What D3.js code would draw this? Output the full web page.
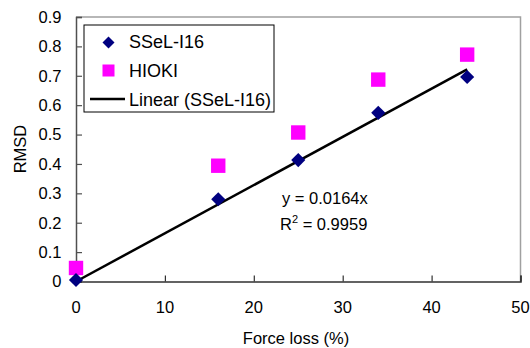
<!DOCTYPE html>
<html><head><meta charset="utf-8">
<script src="https://cdn.jsdelivr.net/npm/d3@7"></script>
<style>body{margin:0;background:#fff}svg{display:block}text{font-family:Arial,"Liberation Sans",sans-serif;fill:#000}</style>
</head><body><svg id="c" width="530" height="348"></svg>
<script>
const forceLoss = [0, 16, 25, 34, 44];
const sselValues = [0.005, 0.28, 0.413, 0.574, 0.696];
const hiokiValues = [0.046, 0.394, 0.507, 0.687, 0.772];
const slope = 0.0164;
const xTicks = [0, 10, 20, 30, 40, 50];
const yTicks = [0, 0.1, 0.2, 0.3, 0.4, 0.5, 0.6, 0.7, 0.8, 0.9];
const legendLabels = ["SSeL-I16", "HIOKI", "Linear (SSeL-I16)"];

const svg = d3.select("#c");
const L = 76, R = 520.5, T = 17, B = 281.5;
const x = d3.scaleLinear().domain([0, 50]).range([L, R]);
const y = d3.scaleLinear().domain([0, 0.9]).range([B, T]);

svg.append("path").attr("d", `M${L},${T}H${R}V${B}`).attr("fill","none").attr("stroke","#a0a0a0").attr("stroke-width",1.5);

const yAxis = d3.axisRight(y).tickValues(yTicks).tickSize(6).tickFormat("");
const gy = svg.append("g").attr("transform",`translate(${L},0)`).call(yAxis);
gy.select(".domain").attr("stroke","#505050").attr("stroke-width",1.5);
gy.selectAll(".tick line").attr("stroke","#505050").attr("stroke-width",1.2);
yTicks.forEach(v => {
  svg.append("text").attr("x", 61.5).attr("y", y(v)).attr("dy","0.36em").attr("text-anchor","end")
    .attr("font-size",16.5).text(d3.format("")(v));
});
const xAxis = d3.axisTop(x).tickValues(xTicks).tickSize(6).tickFormat("");
const gx = svg.append("g").attr("transform",`translate(0,${B})`).call(xAxis);
gx.select(".domain").attr("stroke","#303030").attr("stroke-width",1.5);
gx.selectAll(".tick line").attr("stroke","#303030").attr("stroke-width",1.2);
xTicks.forEach(v => {
  svg.append("text").attr("x", x(v)).attr("y", B+26).attr("dy","0.36em").attr("text-anchor","middle")
    .attr("font-size",16.5).text(v);
});

svg.append("text").attr("x", 296).attr("y", 344).attr("text-anchor","middle").attr("font-size",16.5).text("Force loss (%)");
svg.append("text").attr("transform","translate(26,149) rotate(-90)").attr("text-anchor","middle").attr("font-size",16.5).text("RMSD");

const lineX = [0, d3.max(forceLoss)];
svg.append("path").datum(lineX)
  .attr("d", d3.line().x(d=>x(d)).y(d=>y(slope*d)))
  .attr("stroke","#000").attr("stroke-width",2.5).attr("fill","none");

const diamond = d3.symbol().type(d3.symbolSquare).size(100);
svg.selectAll(".sq").data(forceLoss).enter().append("rect")
  .attr("x", (d)=>x(d)-7.2).attr("y",(d,i)=>y(hiokiValues[i])-7.2)
  .attr("width",14.4).attr("height",14.4).attr("fill","#ff00ff");
svg.selectAll(".dm").data(forceLoss).enter().append("path")
  .attr("d", diamond)
  .attr("transform",(d,i)=>`translate(${x(d)},${y(sselValues[i])}) rotate(45)`)
  .attr("fill","#000080");

svg.append("text").attr("x",282).attr("y",204).attr("font-size",16.5).text("y = 0.0164x");
const r2 = svg.append("text").attr("x",280).attr("y",230).attr("font-size",16.5);
r2.append("tspan").text("R");
r2.append("tspan").attr("font-size",11).attr("dy",-7).text("2");
r2.append("tspan").attr("dy",7).text(" = 0.9959");

svg.append("rect").attr("x",84).attr("y",25).attr("width",190).attr("height",87)
  .attr("fill","#fff").attr("stroke","#000").attr("stroke-width",1);
svg.append("path").attr("d", d3.symbol().type(d3.symbolSquare).size(72))
  .attr("transform","translate(108.5,42.5) rotate(45)").attr("fill","#000080");
svg.append("rect").attr("x",102.5).attr("y",64.5).attr("width",12).attr("height",12).attr("fill","#ff00ff");
svg.append("line").attr("x1",90).attr("x2",125).attr("y1",99).attr("y2",99).attr("stroke","#000").attr("stroke-width",2.5);
const ly = [47.5, 76.5, 105.5];
legendLabels.forEach((t,i)=>{
  svg.append("text").attr("x",129).attr("y",ly[i]).attr("font-size",18).text(t);
});
</script></body></html>
